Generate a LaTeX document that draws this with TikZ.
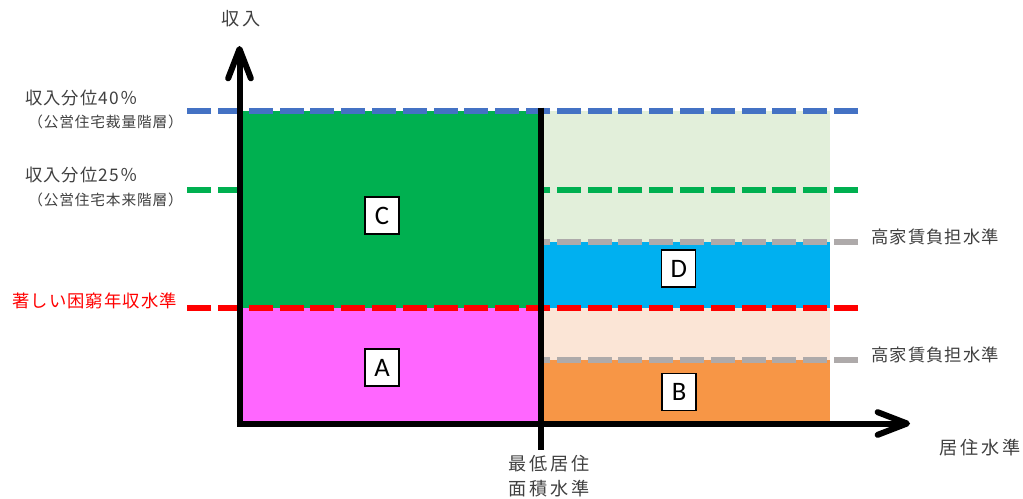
\documentclass[tikz,border=0pt]{standalone}
\usepackage{fontspec}
\setmainfont{Carlito}
\newfontfamily\jpwide[LetterSpace=17]{Noto Sans CJK JP}
\newfontfamily\jp[LetterSpace=6]{Noto Sans CJK JP}
\usetikzlibrary{arrows.meta}
\definecolor{cblue}{HTML}{4472C4}
\definecolor{cgreen}{HTML}{00B050}
\definecolor{lgreen}{HTML}{E2EFDA}
\definecolor{dblue}{HTML}{00B0F0}
\definecolor{peach}{HTML}{FBE5D6}
\definecolor{corange}{HTML}{F79646}
\definecolor{cmagenta}{HTML}{FF66FF}
\definecolor{cgray}{HTML}{AEAAAA}
\definecolor{ctext}{HTML}{404040}
\tikzset{
  lvl/.style={line width=4.5pt, dash pattern=on 18pt off 5.1pt},
  axis/.style={line width=4.5pt, black},
  tag/.style={draw=black, line width=1pt, fill=white, minimum width=25.5pt, minimum height=27.75pt, inner sep=0pt, font=\fontsize{20}{24}\selectfont},
  lbl/.style={inner sep=0pt, text=ctext, font=\jp\fontsize{13}{15}\selectfont},
  wlbl/.style={inner sep=0pt, text=ctext, font=\jpwide\fontsize{13.6}{18.75}\selectfont, align=center},
  slbl/.style={inner sep=0pt, text=ctext, font=\jp\fontsize{11}{13}\selectfont}
}
\begin{document}
\begin{tikzpicture}[x=0.75pt, y=-0.75pt]
\useasboundingbox (0,0) rectangle (1023,499);
% fills
\fill[cgreen] (239.5,111) rectangle (540.7,308);
\fill[cmagenta] (239.5,308) rectangle (540.7,423.5);
\fill[lgreen] (540.7,111) rectangle (830,242);
\fill[dblue] (540.7,242) rectangle (830,308);
\fill[peach] (540.7,308) rectangle (830,359.7);
\fill[corange] (540.7,359.7) rectangle (830,423.5);
% level lines (drawn right to left)
\coordinate (b1) at (858,111); \coordinate (b0) at (181,111);
\coordinate (g1) at (858,189.5); \coordinate (g0) at (181,189.5);
\coordinate (r1) at (858,308); \coordinate (r0) at (181,308);
\coordinate (h1) at (858,242); \coordinate (h0) at (542,242);
\coordinate (k1) at (858,359.7); \coordinate (k0) at (542,359.7);
\draw[lvl, cblue] (b1) -- (b0);
\draw[lvl, cgreen] (g1) -- (g0);
\draw[lvl, cgray] (h1) -- (h0);
\draw[lvl, cgray] (k1) -- (k0);
\draw[lvl, red] (r1) -- (r0);
% axes
\coordinate (mtop) at (540.7,107.7); \coordinate (mbot) at (540.7,450);
\draw[axis] (mtop) -- (mbot);
\coordinate (o1) at (239.5,426.7); \coordinate (ytip) at (239.5,46);
\coordinate (o2) at (236.7,423.5); \coordinate (xtip) at (910,423.5);
\draw[axis, -{Straight Barb[length=22pt, width=17pt, round]}] (o1) -- (ytip);
\draw[axis, -{Straight Barb[length=22pt, width=17pt, round]}] (o2) -- (xtip);
% tags
\node[tag] (C) at (382,215.5) {C};
\node[tag] (A) at (382,367.5) {A};
\node[tag] (D) at (678.7,268.5) {D};
\node[tag] (B) at (679,391.7) {B};
% labels
\node[wlbl] (ylab) at (241,19) {収入};
\node[wlbl] (xlab) at (980,447.5) {居住水準};
\node[wlbl] (mlab) at (549,476) {最低居住\\面積水準};
\node[lbl, anchor=west] (p40) at (25,98) {収入分位40％};
\node[slbl, anchor=west] (p40s) at (28,121.5) {（公営住宅裁量階層）};
\node[lbl, anchor=west] (p25) at (25,175) {収入分位25％};
\node[slbl, anchor=west] (p25s) at (28,200) {（公営住宅本来階層）};
\node[lbl, anchor=east, text=red] (rlab) at (177,300.5) {著しい困窮年収水準};
\node[lbl, anchor=west] (hlab1) at (871,237) {高家賃負担水準};
\node[lbl, anchor=west] (hlab2) at (871,355) {高家賃負担水準};
\end{tikzpicture}
\end{document}
